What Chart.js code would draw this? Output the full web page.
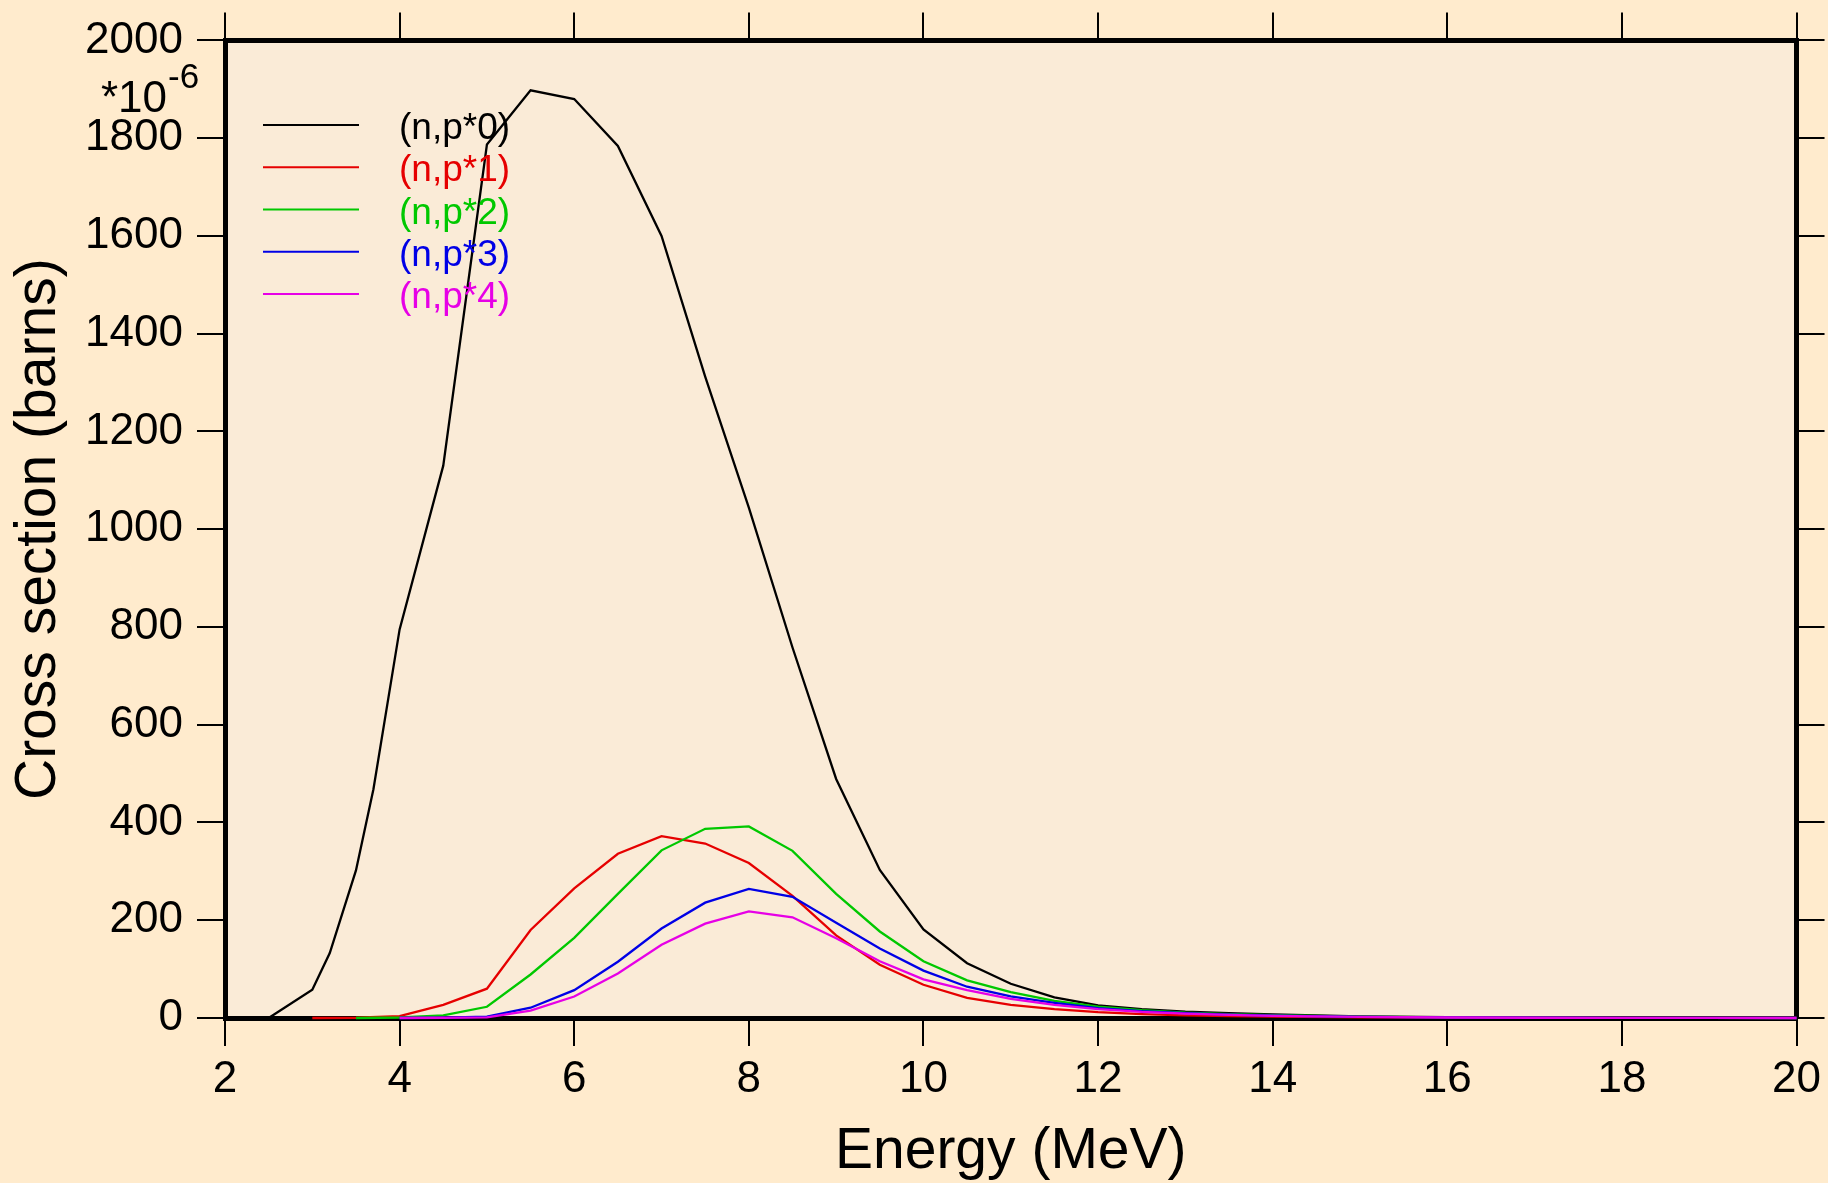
<!DOCTYPE html>
<html>
<head>
<meta charset="utf-8">
<title>(n,p) partial cross sections</title>
<script src="https://cdn.jsdelivr.net/npm/chart.js@4.4.1/dist/chart.umd.min.js"></script>
<style>
  html, body { margin: 0; padding: 0; background: #FFEBCD; }
  #wrap { width: 1828px; height: 1183px; }
  canvas { display: block; }
</style>
</head>
<body>
<div id="wrap"><canvas id="xs" width="1828" height="1183"></canvas></div>
<script>
// Incident neutron energy (MeV) and cross sections (units of 1e-6 barns)
const energyP0 = [2.5, 3, 3.2, 3.5, 3.7, 4, 4.5, 5, 5.5, 6, 6.5, 7, 7.5, 8, 8.5, 9, 9.5, 10, 10.5, 11, 11.5, 12, 12.5, 13, 13.5, 14, 15, 16, 17, 18, 19, 20];
const sigmaP0  = [0, 58, 133, 302, 468, 795, 1130, 1787, 1898, 1880, 1784, 1600, 1312, 1044, 758, 489, 303, 181, 112, 70, 42, 26, 18, 13, 10, 7.5, 3.5, 1.5, 0.7, 0.3, 0.15, 0.07];

const energyP1 = [3, 3.5, 4, 4.5, 5, 5.5, 6, 6.5, 7, 7.5, 8, 8.5, 9, 9.5, 10, 10.5, 11, 11.5, 12, 12.5, 13, 13.5, 14, 15, 16, 17, 18, 19, 20];
const sigmaP1  = [0, 0.5, 4, 27, 60, 180, 265, 336, 372, 357, 317, 250, 169, 109, 68, 41, 27, 18, 12, 8, 5.5, 4, 3, 1.5, 0.7, 0.3, 0.15, 0.07, 0.03];

const energyP2 = [3.5, 4, 4.5, 5, 5.5, 6, 6.5, 7, 7.5, 8, 8.5, 9, 9.5, 10, 10.5, 11, 11.5, 12, 12.5, 13, 13.5, 14, 15, 16, 17, 18, 19, 20];
const sigmaP2  = [0, 1, 5.5, 23, 89, 164, 254, 343, 387, 392, 342, 254, 177, 116, 77, 53, 35, 23, 16, 11, 8, 6, 3, 1.4, 0.6, 0.3, 0.1, 0.05];

const energyP3 = [4, 4.5, 5, 5.5, 6, 6.5, 7, 7.5, 8, 8.5, 9, 9.5, 10, 10.5, 11, 11.5, 12, 12.5, 13, 13.5, 14, 15, 16, 17, 18, 19, 20];
const sigmaP3  = [0, 0.7, 2.7, 21, 57, 115, 183, 236, 264, 248, 195, 142, 97, 64, 44, 31, 20, 14, 10, 7, 5, 2.5, 1.2, 0.5, 0.2, 0.1, 0.05];

const energyP4 = [4, 4.5, 5, 5.5, 6, 6.5, 7, 7.5, 8, 8.5, 9, 9.5, 10, 10.5, 11, 11.5, 12, 12.5, 13, 13.5, 14, 15, 16, 17, 18, 19, 20];
const sigmaP4  = [0, 0.5, 1.4, 15, 44, 91, 150, 193, 218, 206, 163, 116, 79, 57, 39, 27, 18, 12.5, 9, 6.5, 4.5, 2.2, 1, 0.5, 0.2, 0.1, 0.05];

const seriesLabels = ['(n,p*0)', '(n,p*1)', '(n,p*2)', '(n,p*3)', '(n,p*4)'];
const seriesColors = ['#000000', '#e60000', '#00c800', '#0000e6', '#e600e6'];

const xTicks = [2, 4, 6, 8, 10, 12, 14, 16, 18, 20];
const yTicks = [0, 200, 400, 600, 800, 1000, 1200, 1400, 1600, 1800, 2000];
const xTitle = 'Energy (MeV)';
const yTitle = 'Cross section (barns)';

const FONT = '"Liberation Sans", Arial, Helvetica, sans-serif';

function pts(xs, ys) { return xs.map((x, i) => ({ x: x, y: ys[i] })); }

const allSeries = [
  pts(energyP0, sigmaP0),
  pts(energyP1, sigmaP1),
  pts(energyP2, sigmaP2),
  pts(energyP3, sigmaP3),
  pts(energyP4, sigmaP4)
];

const datasets = allSeries.map((data, i) => ({
  label: seriesLabels[i],
  data: data,
  showLine: true,
  borderColor: seriesColors[i],
  backgroundColor: seriesColors[i],
  borderWidth: 2.3,
  pointRadius: 0,
  pointHoverRadius: 0,
  tension: 0,
  fill: false,
  clip: false,
  order: seriesLabels.length - i
}));

// page and plot-area backgrounds
const backdrop = {
  id: 'backdrop',
  beforeDraw(chart) {
    const { ctx, chartArea: a } = chart;
    ctx.save();
    ctx.fillStyle = '#FFEBCD';
    ctx.fillRect(0, 0, chart.width, chart.height);
    ctx.fillStyle = '#FAEBD7';
    ctx.fillRect(a.left, a.top, a.right - a.left, a.bottom - a.top);
    ctx.restore();
  }
};

// legend inside the plot, upper left, plus the axis multiplier
const annotations = {
  id: 'annotations',
  afterDraw(chart) {
    const { ctx, chartArea: a } = chart;
    ctx.save();
    chart.data.datasets.forEach((ds, i) => {
      const y = a.top + 84.5 + 42.3 * i;
      ctx.strokeStyle = ds.borderColor;
      ctx.lineWidth = 2;
      ctx.beginPath();
      ctx.moveTo(a.left + 38, y);
      ctx.lineTo(a.left + 134, y);
      ctx.stroke();
      ctx.fillStyle = ds.borderColor;
      ctx.font = '37px ' + FONT;
      ctx.textAlign = 'left';
      ctx.textBaseline = 'alphabetic';
      ctx.fillText(ds.label, a.left + 174, y + 14);
    });
    // multiplier for the y axis values
    ctx.fillStyle = '#000';
    ctx.textAlign = 'left';
    ctx.textBaseline = 'alphabetic';
    ctx.font = '44px ' + FONT;
    ctx.fillText('*10', 101, 111.5);
    ctx.font = '35px ' + FONT;
    ctx.fillText('-6', 168, 88);
    ctx.restore();
  }
};

const axisLine = { display: true, color: '#000', width: 5 };
const tickMarks = { display: true, drawOnChartArea: false, drawTicks: true, tickLength: 28, color: '#000', lineWidth: 2 };
const plainNumber = v => String(v);

new Chart(document.getElementById('xs'), {
  type: 'scatter',
  data: { datasets: datasets },
  options: {
    responsive: false,
    animation: false,
    devicePixelRatio: 1,
    layout: { padding: 0 },
    plugins: {
      legend: { display: false },
      tooltip: { enabled: false },
      title: { display: false }
    },
    scales: {
      x: {
        type: 'linear', position: 'bottom', min: 2, max: 20,
        afterBuildTicks(s) { s.ticks = xTicks.map(v => ({ value: v })); },
        ticks: { color: '#000', font: { family: FONT, size: 44 }, padding: 7, maxRotation: 0, autoSkip: false, callback: plainNumber },
        grid: tickMarks,
        border: axisLine,
        title: { display: true, text: xTitle, color: '#000', font: { family: FONT, size: 57 }, padding: { top: 0, bottom: -3 } },
        afterFit(s) { s.height = 165; }
      },
      x2: {
        type: 'linear', position: 'top', min: 2, max: 20,
        afterBuildTicks(s) { s.ticks = xTicks.map(v => ({ value: v })); },
        ticks: { display: false },
        grid: tickMarks,
        border: axisLine,
        afterFit(s) { s.height = 38.5; }
      },
      y: {
        type: 'linear', position: 'left', min: 0, max: 2000,
        afterBuildTicks(s) { s.ticks = yTicks.map(v => ({ value: v })); },
        ticks: { color: '#000', font: { family: FONT, size: 44 }, padding: 14, autoSkip: false, callback: plainNumber },
        grid: tickMarks,
        border: axisLine,
        title: { display: true, text: yTitle, color: '#000', font: { family: FONT, size: 57 }, padding: { top: 5, bottom: 0 } },
        afterFit(s) { s.width = 225; }
      },
      y2: {
        type: 'linear', position: 'right', min: 0, max: 2000,
        afterBuildTicks(s) { s.ticks = yTicks.map(v => ({ value: v })); },
        ticks: { display: false },
        grid: tickMarks,
        border: axisLine,
        afterFit(s) { s.width = 31; }
      }
    }
  },
  plugins: [backdrop, annotations]
});
</script>
</body>
</html>
